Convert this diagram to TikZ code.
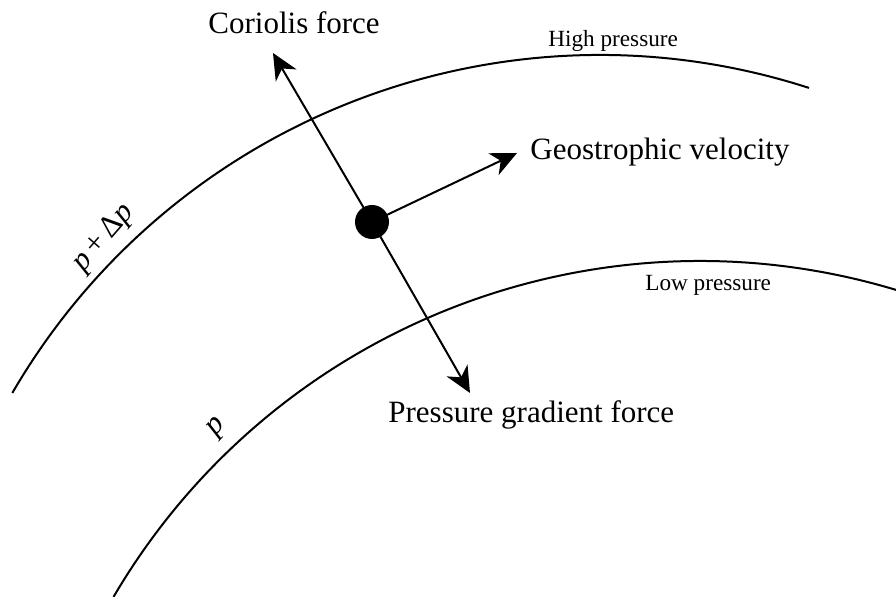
\documentclass[tikz,border=0pt]{standalone}
\usepackage{fontspec}
\setmainfont{Liberation Serif}
\usetikzlibrary{arrows.meta,positioning}
\tikzset{
  isobar/.style={line width=1pt},
  force/.style={-{Stealth[length=13pt,width=12pt,inset=4pt]},line width=1pt},
  bigtext/.style={font=\fontsize{15.5}{18}\selectfont,inner sep=0pt,anchor=base west},
  smalltext/.style={font=\fontsize{11.6}{14}\selectfont,inner sep=0pt,anchor=base west},
  parcel/.style={circle,fill=black,minimum size=17pt,inner sep=0pt}
}
\begin{document}
\begin{tikzpicture}[x=0.5pt,y=-0.5pt]
\useasboundingbox (0,0) rectangle (896,597);
% isobars, same arc shifted
\coordinate (highctr) at (600,735);
\coordinate (lowctr) at (700,941);
\draw[isobar] (highctr) ++(-149.8:680) arc[start angle=-149.8,end angle=-72.1,radius=680];
\draw[isobar] (lowctr) ++(-149.6:680) arc[start angle=-149.6,end angle=-73.2,radius=680];
% air parcel and forces
\node[parcel] (parcel) at (372,222) {};
\coordinate (coriolis) at (273,53);
\coordinate (gradient) at (470,393);
\coordinate (velocity) at (517,153);
\draw[force] (parcel.center) -- (coriolis);
\draw[force] (parcel.center) -- (gradient);
\draw[force] (parcel.center) -- (velocity);
% labels
\node[bigtext] (corlabel) at (208,34) {Coriolis force};
\node[bigtext] (geolabel) at (530,160) {Geostrophic velocity};
\node[bigtext] (pgflabel) at (388,423) {Pressure gradient force};
\node[smalltext] (highlabel) at (548,47) {High pressure};
\node[smalltext] (lowlabel) at (645,291) {Low pressure};
\node[bigtext,anchor=center,rotate=49] (dplabel) at (104,238) {\textit{p}\,+\,Δ\textit{p}};
\node[bigtext,anchor=center,rotate=48] (plabel) at (218,428) {\textit{p}};
\end{tikzpicture}
\end{document}
